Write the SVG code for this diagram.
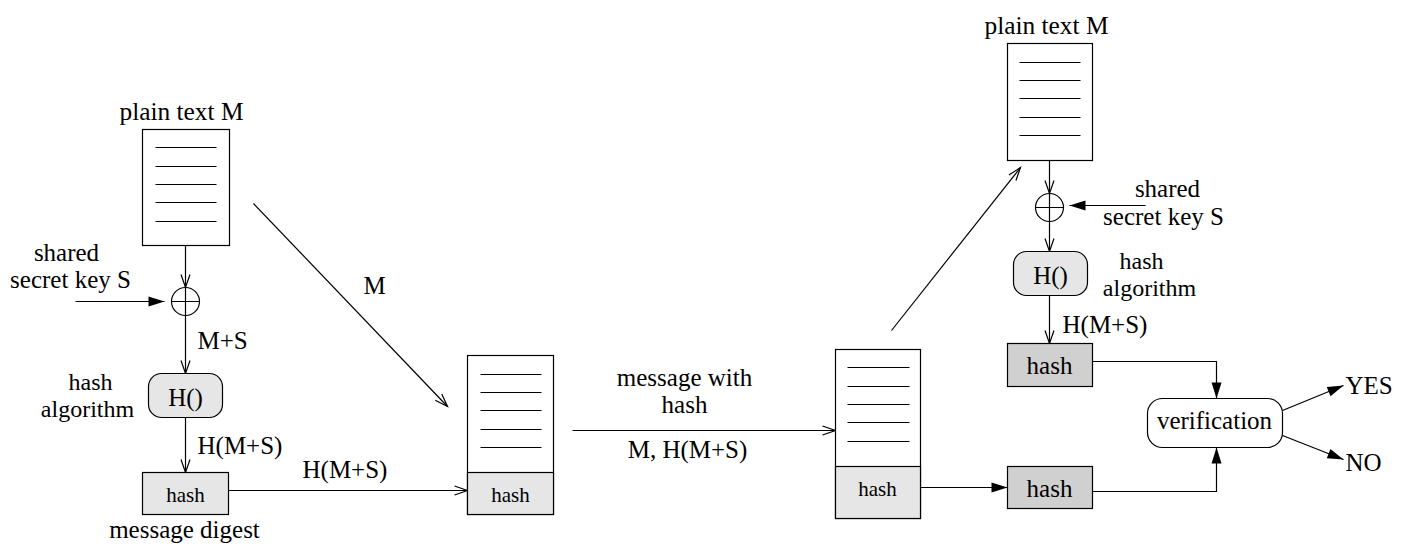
<svg xmlns="http://www.w3.org/2000/svg" width="1408" height="556" viewBox="0 0 1408 556" font-family="'Liberation Serif', 'Times New Roman', Tinos, 'DejaVu Serif', serif">
<style>
text{font-family:'Liberation Serif','Times New Roman',Tinos,'DejaVu Serif',serif;font-size:25px;fill:#000}
.c{text-anchor:middle}
.s{font-size:21px}
.t{font-size:24px}
.box{fill:#fff;stroke:#000;stroke-width:1.2}
.lt{fill:#e6e6e6;stroke:#000;stroke-width:1.2}
.dk{fill:#d0d0d0;stroke:#000;stroke-width:1.2}
.ln{stroke:#000;stroke-width:1.2;fill:none}
.ar{stroke:#000;stroke-width:1.2;fill:none;marker-end:url(#open)}
.af{stroke:#000;stroke-width:1.2;fill:none;marker-end:url(#fill)}
</style>
<defs>
<marker id="open" markerUnits="userSpaceOnUse" markerWidth="14" markerHeight="10" refX="13" refY="4.5" orient="auto" overflow="visible">
<path d="M0,0 L13,4.5 L0,9" fill="none" stroke="#000" stroke-width="1.2"/>
</marker>
<marker id="fill" markerUnits="userSpaceOnUse" markerWidth="18" markerHeight="12" refX="16" refY="5" orient="auto" overflow="visible">
<path d="M0,0 L16,5 L0,10 z" fill="#000"/>
</marker>
</defs>
<rect width="1408" height="556" fill="#fff"/>
<g transform="translate(0.5,0.5)">

<g id="connectors">
<line class="ar" x1="185" y1="245" x2="185" y2="287"/>
<line class="af" x1="75" y1="301" x2="164" y2="301"/>
<line class="ar" x1="185" y1="315" x2="185" y2="373"/>
<line class="ar" x1="185" y1="417" x2="185" y2="472"/>
<line class="ar" x1="228" y1="490" x2="467" y2="490"/>
<line class="ar" x1="253" y1="203" x2="447" y2="406"/>
<line class="ar" x1="572" y1="430" x2="835" y2="430"/>
<line class="ar" x1="891" y1="330" x2="1020" y2="167"/>
<line class="ar" x1="1049" y1="160" x2="1049" y2="193"/>
<line class="af" x1="1145" y1="205" x2="1069" y2="205"/>
<line class="ar" x1="1049" y1="221" x2="1049" y2="251"/>
<line class="ar" x1="1049" y1="295" x2="1049" y2="343"/>
<polyline class="af" points="1092,361 1216,361 1216,398"/>
<line class="af" x1="920" y1="487" x2="1007" y2="487"/>
<polyline class="af" points="1092,491 1216,491 1216,447"/>
<line class="af" x1="1282" y1="410" x2="1343" y2="385"/>
<line class="af" x1="1282" y1="435" x2="1343" y2="459"/>
</g>

<g id="left-plaintext">
<text class="c" x="181" y="119" textLength="124" lengthAdjust="spacingAndGlyphs">plain text M</text>
<rect class="box" x="142" y="129" width="87" height="116"/>
<path class="ln" d="M155,147H216M155,166H216M155,184H216M155,202H216M155,221H216"/>
</g>

<g id="left-key">
<text class="c" x="66" y="260">shared</text>
<text class="c" x="70" y="287">secret key S</text>
</g>

<g id="left-xor">
<circle class="box" cx="185" cy="301" r="14"/>
<path class="ln" d="M171,301H199M185,287V315"/>
</g>

<g id="left-labels">
<text x="197" y="348">M+S</text>
<text class="c t" x="90" y="389">hash</text>
<text class="c t" x="87" y="416">algorithm</text>
<text x="197" y="453">H(M+S)</text>
<text x="302" y="477">H(M+S)</text>
<text x="363" y="293">M</text>
</g>

<g id="left-hash-fn">
<rect class="lt" x="148" y="373" width="74" height="44" rx="13"/>
<text class="c" x="185" y="405">H()</text>
</g>

<g id="left-digest">
<rect class="lt" x="142" y="472" width="86" height="42"/>
<text class="c s" x="185" y="501">hash</text>
<text class="c" x="184" y="537">message digest</text>
</g>

<g id="sent-message">
<rect class="box" x="467" y="355" width="86" height="159"/>
<rect class="lt" x="467" y="472" width="86" height="42"/>
<path class="ln" d="M480,374H541M480,392H541M480,410H541M480,429H541M480,447H541"/>
<text class="c s" x="510" y="501">hash</text>
</g>

<g id="transfer-labels">
<text class="c" x="684" y="385">message with</text>
<text class="c" x="684" y="412">hash</text>
<text class="c" x="687" y="457">M, H(M+S)</text>
</g>

<g id="received-message">
<rect class="box" x="835" y="349" width="85" height="169"/>
<rect class="lt" x="835" y="466" width="85" height="52"/>
<path class="ln" d="M847,367H909M847,386H909M847,404H909M847,422H909M847,441H909"/>
<text class="c s" x="877" y="495">hash</text>
</g>

<g id="right-plaintext">
<text class="c" x="1046" y="33" textLength="124" lengthAdjust="spacingAndGlyphs">plain text M</text>
<rect class="box" x="1007" y="43" width="85" height="117"/>
<path class="ln" d="M1019,62H1080M1019,80H1080M1019,98H1080M1019,117H1080M1019,135H1080"/>
</g>

<g id="right-xor">
<circle class="box" cx="1049" cy="207" r="14"/>
<path class="ln" d="M1035,207H1063M1049,193V221"/>
</g>

<g id="right-key">
<text class="c" x="1167" y="196">shared</text>
<text class="c" x="1163" y="224">secret key S</text>
</g>

<g id="right-hash-fn">
<rect class="lt" x="1013" y="251" width="74" height="44" rx="13"/>
<text class="c" x="1050" y="283">H()</text>
<text class="c t" x="1141" y="268">hash</text>
<text class="c t" x="1149" y="295">algorithm</text>
<text x="1062" y="332">H(M+S)</text>
</g>

<g id="computed-hash">
<rect class="dk" x="1007" y="343" width="85" height="43"/>
<text class="c" x="1049" y="373">hash</text>
</g>

<g id="received-hash">
<rect class="dk" x="1007" y="466" width="85" height="42"/>
<text class="c" x="1049" y="496">hash</text>
</g>

<g id="verification">
<rect class="box" x="1147" y="398" width="135" height="49" rx="15"/>
<text class="c" x="1214" y="428">verification</text>
</g>

<g id="yes"><text x="1345" y="393">YES</text></g>
<g id="no"><text x="1345" y="470">NO</text></g>
</g>
</svg>
